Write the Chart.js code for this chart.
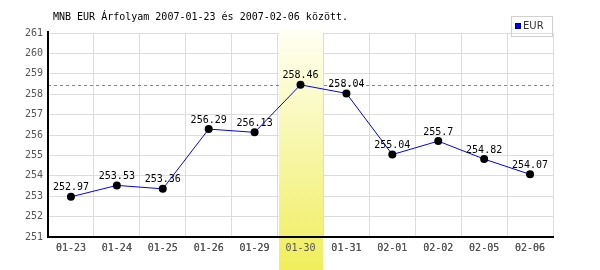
<!DOCTYPE html>
<html>
<head>
<meta charset="utf-8">
<script src="https://cdn.jsdelivr.net/npm/chart.js@4/dist/chart.umd.min.js"></script>
<style>
  html, body { margin: 0; padding: 0; background: #fff; }
  #wrap { width: 600px; height: 270px; }
</style>
</head>
<body>
<div id="wrap"><canvas id="chartEur"></canvas></div>
<script>
// MNB EUR rates
const days = ['01-23', '01-24', '01-25', '01-26', '01-29', '01-30', '01-31', '02-01', '02-02', '02-05', '02-06'];
const eurRates = [252.97, 253.53, 253.36, 256.29, 256.13, 258.46, 258.04, 255.04, 255.7, 254.82, 254.07];
const maxDay = '01-30';
const maxRate = 258.46;
const yMin = 251;
const yMax = 261;
const titleText = 'MNB EUR Árfolyam 2007-01-23 és 2007-02-06 között.';

const monoFont = '10px "DejaVu Sans Mono", "Liberation Mono", monospace';

const decorPlugin = {
  id: 'decor',
  beforeDatasetsDraw(chart) {
    const ctx = chart.ctx;
    const area = chart.chartArea;
    const x = chart.scales.x;
    const y = chart.scales.y;

    // dashed max line
    const ym = Math.round(y.getPixelForValue(maxRate)) + 0.5;
    ctx.save();
    ctx.strokeStyle = '#7878ff';
    ctx.lineWidth = 1;
    ctx.setLineDash([3, 3]);
    ctx.beginPath();
    ctx.moveTo(area.left, ym);
    ctx.lineTo(area.right, ym);
    ctx.stroke();
    ctx.restore();

    // highlighted day band
    const idx = days.indexOf(maxDay);
    const half = (x.getPixelForValue(1) - x.getPixelForValue(0)) / 2;
    const cx = x.getPixelForValue(idx);
    const bx = Math.round(cx - half) + 1;
    const bw = Math.round(cx + half) - bx;
    const g = ctx.createLinearGradient(0, 30, 0, 270);
    g.addColorStop(0, '#fffff4');
    g.addColorStop(1, '#f0ee5c');
    ctx.save();
    ctx.fillStyle = g;
    ctx.fillRect(bx, 30, bw, 240);
    ctx.restore();

    // tick labels again on top of the band
    if (x.drawLabels) x.drawLabels(area);

    // axis lines
    ctx.save();
    ctx.strokeStyle = '#000';
    ctx.lineWidth = 2;
    ctx.beginPath();
    ctx.moveTo(area.left, area.top - 2);
    ctx.lineTo(area.left, area.bottom);
    ctx.lineTo(area.right + 1, area.bottom);
    ctx.stroke();
    ctx.restore();
  },
  afterDatasetsDraw(chart) {
    const ctx = chart.ctx;
    const meta = chart.getDatasetMeta(0);
    ctx.save();
    ctx.font = monoFont;
    ctx.fillStyle = '#000';
    ctx.textAlign = 'center';
    ctx.textBaseline = 'bottom';
    meta.data.forEach((pt, i) => {
      ctx.fillText(String(eurRates[i]), pt.x, pt.y - 4);
    });
    ctx.restore();
  },
  afterDraw(chart) {
    const ctx = chart.ctx;
    ctx.save();
    // title
    ctx.font = monoFont;
    ctx.fillStyle = '#000';
    ctx.textAlign = 'left';
    ctx.textBaseline = 'middle';
    ctx.fillText(titleText, 53, 17);
    // legend
    ctx.strokeStyle = '#d0d0d0';
    ctx.lineWidth = 1;
    ctx.strokeRect(511.5, 16.5, 41, 20);
    ctx.fillStyle = '#0000ff';
    ctx.fillRect(515, 23, 6, 6);
    ctx.strokeStyle = '#000080';
    ctx.strokeRect(515.5, 23.5, 5, 5);
    ctx.fillStyle = '#333';
    ctx.font = '10px "DejaVu Sans", sans-serif';
    ctx.fillText('EUR', 523, 26.5);
    ctx.restore();
  }
};

new Chart(document.getElementById('chartEur'), {
  type: 'line',
  data: {
    labels: days,
    datasets: [{
      label: 'EUR',
      data: eurRates,
      borderColor: '#0000ff',
      borderWidth: 1,
      pointRadius: 4,
      pointBackgroundColor: '#000',
      pointBorderWidth: 0,
      tension: 0,
      fill: false
    }]
  },
  options: {
    responsive: true,
    maintainAspectRatio: false,
    animation: false,
    layout: { padding: { top: 33, right: 47, left: 0, bottom: 0 } },
    plugins: {
      legend: { display: false },
      title: { display: false },
      tooltip: { enabled: false }
    },
    scales: {
      x: {
        offset: true,
        grid: { offset: true, color: '#dcdcdc', lineWidth: 1, drawTicks: false },
        border: { display: false },
        ticks: {
          color: '#555',
          padding: 5,
          maxRotation: 0,
          autoSkip: false,
          font: { family: '"DejaVu Sans Mono", monospace', size: 10 }
        },
        afterFit(scale) { scale.height = 33; }
      },
      y: {
        min: yMin,
        max: yMax,
        grid: { color: '#dcdcdc', lineWidth: 1, drawTicks: false },
        border: { display: false },
        ticks: {
          stepSize: 1,
          color: '#555',
          padding: 5,
          font: { family: '"DejaVu Sans Mono", monospace', size: 10 }
        },
        afterFit(scale) { scale.width = 48; }
      }
    }
  },
  plugins: [decorPlugin]
});
</script>
</body>
</html>
